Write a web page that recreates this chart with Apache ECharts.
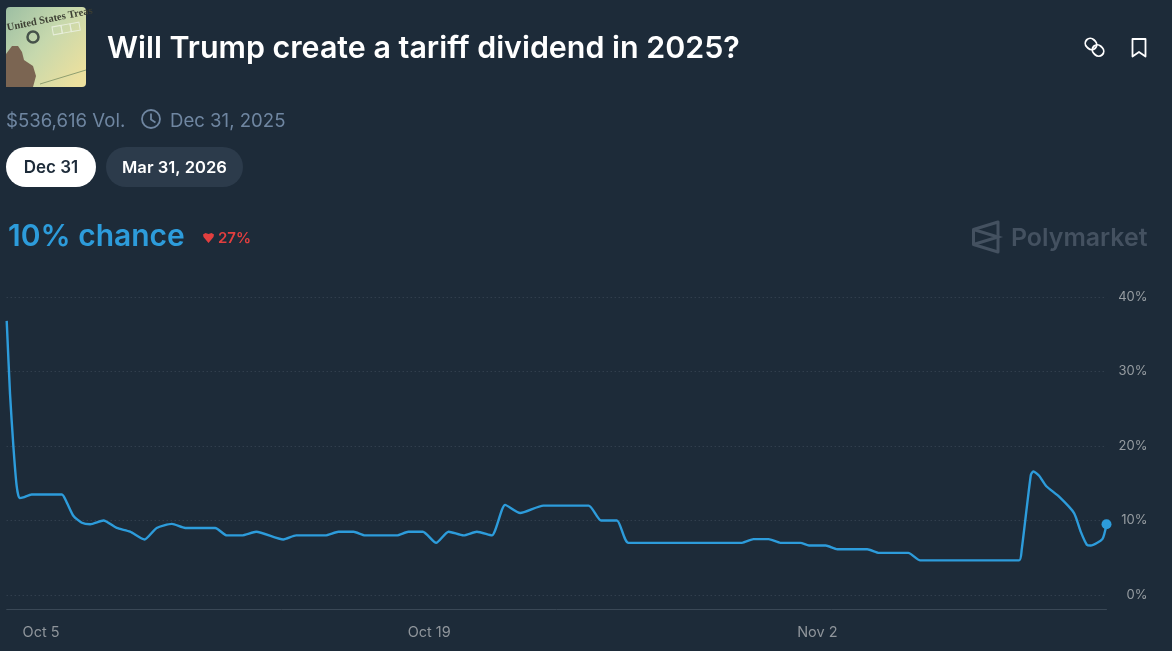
<!DOCTYPE html>
<html>
<head>
<meta charset="utf-8">
<title>Will Trump create a tariff dividend in 2025?</title>
<style>
  html, body { margin: 0; padding: 0; background: #1d2b39; }
  #chart { width: 1172px; height: 651px; }
</style>
<script src="https://cdn.jsdelivr.net/npm/echarts@6/dist/echarts.min.js"></script>
</head>
<body>
<div id="chart"></div>
<script>
// days relative to Oct 5 2025
const dayOffsets = [-1.24, -1.12, -1.00, -0.88, -0.78, -0.64, -0.34, 0.75, 0.93, 1.17, 1.47, 1.77, 2.25, 2.73, 3.21, 3.73, 4.17, 4.72, 5.20, 6.28, 6.70, 7.24, 7.76, 8.74, 9.20, 10.25, 10.73, 11.27, 11.69, 12.83, 13.25, 13.77, 14.25, 14.70, 15.24, 15.72, 16.26, 16.74, 17.28, 18.12, 19.75, 20.20, 20.77, 21.19, 25.28, 25.70, 26.24, 26.67, 27.39, 27.70, 28.30, 28.72, 29.80, 30.23, 31.28, 31.71, 35.28, 35.37, 35.70, 35.79, 36.00, 36.26, 36.72, 37.26, 37.50, 37.72, 37.86, 38.28, 38.43];
const chance = [36.8, 27, 20, 14.6, 13.0, 13.1, 13.5, 13.5, 12.4, 10.6, 9.7, 9.5, 10, 9, 8.5, 7.45, 9, 9.55, 9, 9, 8, 8, 8.5, 7.45, 8, 8, 8.5, 8.5, 8, 8, 8.5, 8.5, 7, 8.5, 8, 8.5, 8, 12.1, 11, 12, 12, 10, 10, 7, 7, 7.5, 7.5, 7, 7, 6.65, 6.65, 6.15, 6.15, 5.65, 5.65, 4.65, 4.65, 6.05, 16.1, 16.6, 16, 14.6, 13.2, 11, 8.5, 6.75, 6.65, 7.5, 9.5];
const tickDays = [0, 14, 28];
const tickLabels = ['Oct 5', 'Oct 19', 'Nov 2'];

const points = dayOffsets.map(function (d, i) { return [d, chance[i]]; });

const BG = '#1d2b39';
const BLUE = '#2d9cdb';
const UI_FONT = 'Inter, "Noto Sans", sans-serif';

function label(text, x, y, fill, size, weight, align) {
  return {
    type: 'text',
    silent: true,
    style: {
      text: text, x: x, y: y, fill: fill,
      font: (weight || 400) + ' ' + size + 'px ' + UI_FONT,
      textAlign: align || 'left',
      textVerticalAlign: 'middle'
    }
  };
}

// stand-in for the cheque photo
const thumb = [
  { type: 'rect', shape: { x: 6, y: 7, width: 80, height: 80, r: 4 },
    style: { fill: new echarts.graphic.LinearGradient(0, 0, 1, 0.8, [
      { offset: 0, color: '#9dbfa3' }, { offset: 0.5, color: '#c6d8ad' }, { offset: 1, color: '#ece09e' }
    ]) } },
  { type: 'text', rotation: 0.2, x: 7, y: 28, style: { text: 'United States Treas', fill: '#3d3f33', font: 'bold 10.5px "Liberation Serif", serif', textVerticalAlign: 'middle' } },
  { type: 'circle', shape: { cx: 33, cy: 37, r: 5.5 }, style: { fill: 'none', stroke: '#46524a', lineWidth: 2.5 } },
  { type: 'rect', rotation: 0.18, x: 52, y: 27, shape: { x: 0, y: 0, width: 9, height: 8 }, style: { fill: 'none', stroke: '#e8eedb', lineWidth: 1 } },
  { type: 'rect', rotation: 0.18, x: 61, y: 25.4, shape: { x: 0, y: 0, width: 9, height: 8 }, style: { fill: 'none', stroke: '#e8eedb', lineWidth: 1 } },
  { type: 'rect', rotation: 0.18, x: 70, y: 23.8, shape: { x: 0, y: 0, width: 9, height: 8 }, style: { fill: 'none', stroke: '#e8eedb', lineWidth: 1 } },
  { type: 'polygon', shape: { points: [[6, 54], [12, 46], [18, 46], [22, 52], [24, 60], [33, 66], [36, 76], [33, 87], [6, 87]] }, style: { fill: '#7b6552' } },
  { type: 'polyline', shape: { points: [[40, 84], [86, 70]] }, style: { stroke: '#8f9f70', lineWidth: 1 } }
];

const graphics = thumb.concat([
  label('Will Trump create a tariff dividend in 2025?', 107, 49, '#ffffff', 30.4, 600),

  // share + bookmark icons
  { type: 'rect', x: 1091, y: 44, rotation: -Math.PI / 4, shape: { x: -6, y: -5, width: 12, height: 10, r: 5 }, style: { fill: 'none', stroke: '#ffffff', lineWidth: 1.8 } },
  { type: 'rect', x: 1098, y: 50.5, rotation: -Math.PI / 4, shape: { x: -6, y: -5, width: 12, height: 10, r: 5 }, style: { fill: 'none', stroke: '#ffffff', lineWidth: 1.8 } },
  { type: 'polygon', shape: { points: [[1132.5, 39], [1145.5, 39], [1145.5, 56.5], [1139, 52], [1132.5, 56.5]] }, style: { fill: 'none', stroke: '#ffffff', lineWidth: 1.8, lineJoin: 'round' } },

  // volume + end date
  label('$536,616 Vol.', 6, 121, '#6f86a1', 18.6, 400),
  { type: 'circle', shape: { cx: 151, cy: 119, r: 9 }, style: { fill: 'none', stroke: '#6f86a1', lineWidth: 1.8 } },
  { type: 'polyline', shape: { points: [[151, 113.5], [151, 119.5], [155.5, 122.5]] }, style: { stroke: '#6f86a1', lineWidth: 1.8 } },
  label('Dec 31, 2025', 170, 121, '#6f86a1', 18.6, 400),

  // date pills
  { type: 'rect', shape: { x: 6, y: 147, width: 90, height: 40, r: 20 }, style: { fill: '#ffffff' } },
  label('Dec 31', 51, 168, BG, 17, 600, 'center'),
  { type: 'rect', shape: { x: 106, y: 147, width: 137, height: 40, r: 20 }, style: { fill: '#2c3b4b' } },
  label('Mar 31, 2026', 174.5, 168, '#ffffff', 16.6, 600, 'center'),

  // headline
  label('10% chance', 8, 237, BLUE, 30, 600),
  { type: 'polygon', shape: { points: [[203, 234.5], [205.5, 233], [208.5, 234], [211.5, 233], [214, 234.5], [213.5, 237], [208.5, 243], [203.5, 237]] }, style: { fill: '#e23f3f' } },
  label('27%', 218, 238, '#e23f3f', 15, 600),

  // watermark
  { type: 'polygon', shape: { points: [[998, 222], [998, 252], [973.5, 244.5], [973.5, 229.5]] }, style: { fill: 'none', stroke: '#445160', lineWidth: 3, lineJoin: 'round' } },
  { type: 'polyline', shape: { points: [[973.5, 229.5], [998, 237], [973.5, 244.5]] }, style: { stroke: '#445160', lineWidth: 3 } },
  label('Polymarket', 1011, 239, '#445160', 24.9, 600)
]);

const chart = echarts.init(document.getElementById('chart'));

const option = {
  backgroundColor: BG,
  animation: false,
  grid: { left: 6.7, right: 65.5, top: 297, bottom: 56 },
  xAxis: {
    type: 'value',
    min: dayOffsets[0],
    max: dayOffsets[dayOffsets.length - 1],
    offset: 14,
    axisLine: { onZero: false, lineStyle: { color: '#3a4856', width: 1 } },
    axisTick: { show: false },
    splitLine: { show: false },
    axisLabel: {
      customValues: tickDays,
      margin: 16,
      color: '#8f959b',
      fontSize: 14.5,
      fontFamily: UI_FONT,
      hideOverlap: false,
      formatter: function (value) {
        return tickLabels[tickDays.indexOf(value)];
      }
    }
  },
  yAxis: {
    type: 'value',
    position: 'right',
    min: 0,
    max: 40,
    interval: 10,
    axisLine: { show: false },
    axisTick: { show: false },
    axisLabel: {
      align: 'right',
      margin: 41,
      color: '#979da2',
      fontSize: 13,
      fontFamily: UI_FONT,
      formatter: '{value}%'
    },
    splitLine: { lineStyle: { color: '#3b4957', width: 1, type: [1, 3] } }
  },
  series: [
    {
      type: 'line',
      data: points,
      smooth: 0.2,
      showSymbol: false,
      clip: false,
      lineStyle: { color: BLUE, width: 2.4 }
    },
    {
      type: 'scatter',
      data: points.slice(-1),
      symbolSize: 10,
      clip: false,
      itemStyle: { color: BLUE, opacity: 1 }
    }
  ],
  graphic: { elements: graphics }
};

chart.setOption(option);
</script>
</body>
</html>
